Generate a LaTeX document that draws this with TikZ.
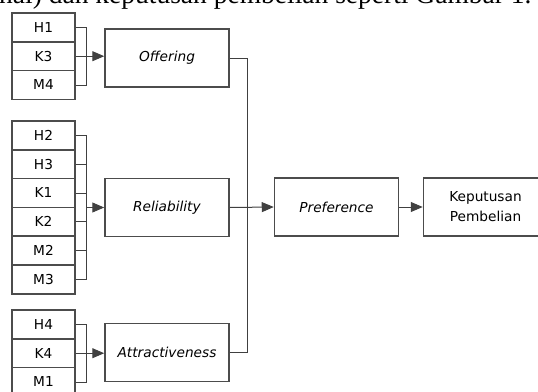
\documentclass[tikz,border=0pt]{standalone}
\usepackage{fontspec}
\setmainfont{DejaVu Sans}
\newfontfamily\serifbody{Liberation Serif}
\usetikzlibrary{arrows.meta}

\begin{document}
\begin{tikzpicture}[x=1pt,y=-1pt,
  font=\fontsize{13.7}{20}\selectfont,
  box/.style={draw=black!70, line width=1.5pt, inner sep=0pt},
  ind/.style={box, minimum width=63pt, minimum height=28.8pt},
  var/.style={box, minimum width=124pt, minimum height=58pt, align=center},
  ln/.style={draw=black!75, line width=1pt},
  arr/.style={ln, -{Triangle[length=12pt,width=10pt]}}]
\useasboundingbox (0,0) rectangle (538,391);
\clip (0,0) rectangle (538,391);
\node[anchor=base west, inner sep=0pt, font=\serifbody\fontsize{27.5}{30}\selectfont] (cap) at (-1,3) {nal) dan keputusan pembelian seperti Gambar 1.};

% indicators
\foreach \n [count=\i] in {H1,K3,M4}
  \node[ind] (\n) at (43.5,{13+28.8*(\i-0.5)}) {\n};
\foreach \n [count=\i] in {H2,H3,K1,K2,M2,M3}
  \node[ind] (\n) at (43.5,{121+28.8*(\i-0.5)}) {\n};
\foreach \n [count=\i] in {H4,K4,M1}
  \node[ind] (\n) at (43.5,{310+28.8*(\i-0.5)}) {\n};

% variables
\node[var] (off) at (167,58) {\textit{Offering}};
\node[var] (rel) at (167,207.5) {\textit{Reliability}};
\node[var] (att) at (167,352.5) {\textit{Attractiveness}};
\node[var] (pre) at (336.5,207) {\textit{Preference}};
\node[var] (kep) at (485.5,207) {Keputusan\\Pembelian};

% brackets
\foreach \n in {H1,K3,M4,H2,H3,K1,K2,M2,M3,H4,K4,M1}
  \draw[ln] (\n.east) -- ++(11,0);
\draw[ln] ([xshift=11pt]H1.east) -- ([xshift=11pt]M4.east);
\draw[ln] ([xshift=11pt]H2.east) -- ([xshift=11pt]M3.east);
\draw[ln] ([xshift=11pt]H4.east) -- ([xshift=11pt]M1.east);
\draw[arr] (K3.east) -- (off.west |- K3.east);
\draw[arr] ([xshift=11pt]H2.east |- rel.west) -- (rel.west);
\draw[arr] (K4.east) -- (att.west |- K4.east);

% paths to preference
\coordinate (bus) at (247,0);
\draw[ln] (off.east) -| (bus |- att.east) -- (att.east);
\draw[arr] (rel.east) -- (pre.west);
\draw[arr] (pre.east) -- (kep.west);
\end{tikzpicture}
\end{document}
